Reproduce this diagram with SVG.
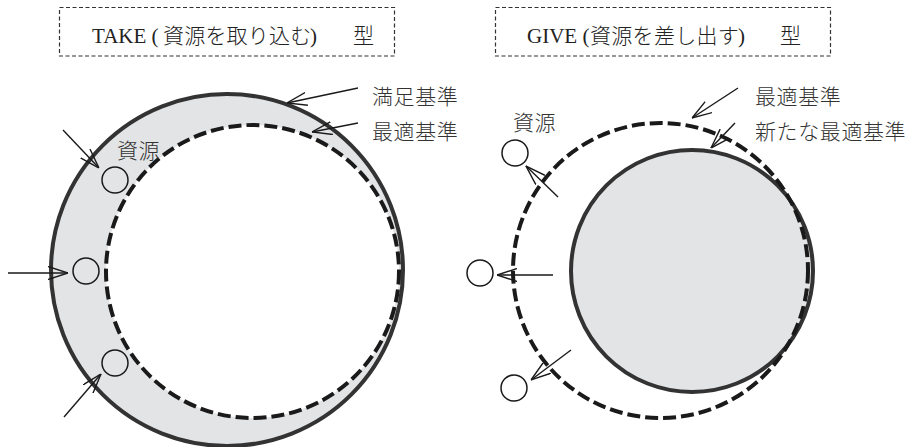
<svg xmlns="http://www.w3.org/2000/svg" width="919" height="447" viewBox="0 0 919 447">
<style>
.title{font-family:"Liberation Serif","Noto Sans CJK JP",serif;font-size:21px;fill:#222}
.cjk{font-family:"Noto Sans CJK JP","Liberation Serif",serif;font-weight:300}
.lbl{font-family:"Noto Sans CJK JP","Liberation Serif",serif;font-weight:300;font-size:21px;fill:#333;letter-spacing:0.6px}
.box{fill:none;stroke:#333;stroke-width:1.2;stroke-dasharray:4 2.5}
.solid{stroke:#333;stroke-width:4}
.dash{fill:none;stroke:#1a1a1a;stroke-width:4;stroke-dasharray:13 5}
.res{fill:none;stroke:#1a1a1a;stroke-width:1.5}
.arr{fill:none;stroke:#1a1a1a;stroke-width:1.4;marker-end:url(#ah)}
</style>
<defs>
<marker id="ah" viewBox="0 0 20 14" refX="20" refY="7" markerWidth="20" markerHeight="14" markerUnits="userSpaceOnUse" orient="auto">
<path d="M0,0.5 L20,7 L0,13.5" fill="none" stroke="#1a1a1a" stroke-width="1.4"/>
</marker>
</defs>
<rect width="919" height="447" fill="#fff"/>

<g id="take-title">
<rect class="box" x="59.5" y="7.5" width="335" height="48.5"/>
<text class="title" y="43"><tspan x="92">TAKE (</tspan><tspan class="cjk" x="163" letter-spacing="0.2">資源を取り込む</tspan><tspan x="310">)</tspan><tspan class="cjk" x="353">型</tspan></text>
</g>
<g id="give-title">
<rect class="box" x="495.5" y="7.5" width="335" height="48.5"/>
<text class="title" y="43"><tspan x="527">GIVE (</tspan><tspan class="cjk" x="590" letter-spacing="0.3">資源を差し出す</tspan><tspan x="738">)</tspan><tspan class="cjk" x="780">型</tspan></text>
</g>

<g id="take-satisfy">
<circle class="solid" cx="227" cy="270" r="176" fill="#e3e4e6"/>
</g>
<g id="take-optimal">
<circle cx="252.5" cy="271.5" r="146.5" fill="#fff"/>
<circle class="dash" cx="252.5" cy="271.5" r="146.5"/>
</g>
<g id="take-res1"><circle class="res" cx="115" cy="180" r="13"/></g>
<g id="take-res2"><circle class="res" cx="86" cy="271" r="13"/></g>
<g id="take-res3"><circle class="res" cx="115" cy="363" r="13"/></g>
<g id="take-labels">
<text class="lbl" x="117" y="158" font-size="19">資源</text>
<text class="lbl" x="372" y="104">満足基準</text>
<text class="lbl" x="372" y="139">最適基準</text>
</g>

<g id="give-new">
<circle class="solid" cx="692" cy="271" r="121" fill="#e3e4e6"/>
</g>
<g id="give-optimal">
<circle class="dash" cx="660.5" cy="270.5" r="147.5"/>
</g>
<g id="give-res1"><circle class="res" cx="515" cy="153" r="13"/></g>
<g id="give-res2"><circle class="res" cx="480" cy="273" r="13"/></g>
<g id="give-res3"><circle class="res" cx="514" cy="388" r="13"/></g>
<g id="give-labels">
<text class="lbl" x="513" y="130">資源</text>
<text class="lbl" x="755" y="104">最適基準</text>
<text class="lbl" x="755" y="139">新たな最適基準</text>
</g>

<g id="connectors">
<line class="arr" x1="63" y1="130" x2="99" y2="168"/>
<line class="arr" x1="8" y1="273" x2="68" y2="273"/>
<line class="arr" x1="64" y1="417" x2="101" y2="374"/>
<line class="arr" x1="358" y1="88" x2="287" y2="103"/>
<line class="arr" x1="358" y1="123" x2="312" y2="132"/>
<line class="arr" x1="558" y1="197" x2="526" y2="166"/>
<line class="arr" x1="553" y1="275" x2="497" y2="275"/>
<line class="arr" x1="571" y1="350" x2="531" y2="380"/>
<line class="arr" x1="738" y1="88" x2="692" y2="118"/>
<line class="arr" x1="735" y1="123" x2="711" y2="148"/>
</g>
</svg>
